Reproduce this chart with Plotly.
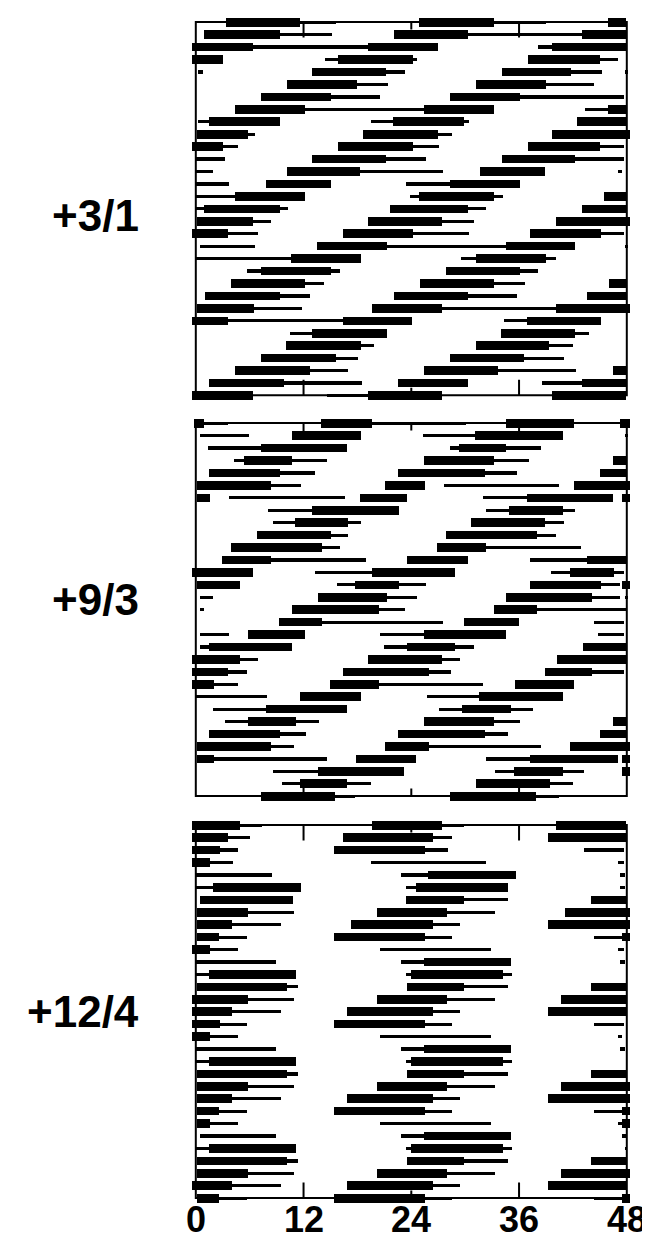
import plotly.graph_objects as go

# ---------------- data (hours 0-48, double-plotted rows) ----------------
panel_labels = ["+3/1", "+9/3", "+12/4"]
tick_values = [0, 12, 24, 36, 48]
tick_labels = ["0", "12", "24", "36", "48"]

p1_thick = [
    [(3.4, 11.6), (24.9, 33.2), (45.9, 48)],
    [(1.0, 9.4), (22.1, 30.3), (43.1, 48)],
    [(-0.4, 6.4), (19.2, 27.0), (39.7, 48)],
    [(-0.4, 3.1), (15.9, 24.2), (37.0, 45.1)],
    [(13.0, 21.2), (34.1, 41.8)],
    [(10.2, 18.0), (31.2, 39.0)],
    [(7.3, 15.1), (28.3, 36.1)],
    [(4.4, 12.2), (25.4, 33.2), (45.9, 48)],
    [(1.5, 9.4), (22.0, 29.9), (42.5, 48.1)],
    [(0.2, 5.9), (18.7, 27.0), (39.7, 48.4)],
    [(-0.4, 3.1), (15.9, 24.2), (37.0, 45.1)],
    [(13.0, 21.2), (34.1, 42.3)],
    [(10.2, 18.3), (31.7, 38.9)],
    [(7.8, 15.1), (28.3, 36.1)],
    [(4.4, 12.2), (24.9, 33.2), (45.5, 48)],
    [(1.0, 9.4), (21.7, 30.3), (43.1, 48)],
    [(0.2, 6.4), (19.2, 27.5), (40.2, 48.4)],
    [(-0.4, 3.6), (16.4, 24.2), (37.3, 45.2)],
    [(13.5, 21.3), (34.6, 42.3)],
    [(10.6, 18.4), (31.2, 39.0)],
    [(7.3, 15.1), (27.9, 36.1)],
    [(4.0, 12.2), (25.0, 33.2), (46.0, 48)],
    [(1.1, 9.4), (22.1, 30.3), (43.6, 48)],
    [(0.2, 6.5), (19.7, 27.5), (40.2, 48.4)],
    [(-0.4, 3.6), (16.4, 24.1), (36.9, 45.2)],
    [(13.0, 21.3), (34.0, 42.3)],
    [(10.1, 18.4), (31.2, 39.4)],
    [(7.3, 15.6), (28.3, 36.6)],
    [(4.4, 12.7), (25.5, 33.7), (46.5, 48)],
    [(1.5, 9.9), (22.6, 30.3), (43.1, 48)],
    [(-0.4, 6.4), (19.2, 27.5), (39.7, 48)],
]
p1_thin = [
    [(11.6, 15.7), (33.2, 39.0)],
    [(9.4, 15.2), (30.3, 43.3)],
    [(6.4, 19.2), (38.1, 39.7)],
    [(14.4, 15.9), (24.2, 24.7), (45.1, 47.1)],
    [(0.3, 0.8), (21.2, 23.3), (41.8, 45.3), (47.8, 48.2)],
    [(18.0, 21.4), (39.0, 44.4)],
    [(15.1, 20.5), (36.1, 47.7)],
    [(12.2, 25.4), (43.4, 45.9)],
    [(0.3, 1.5), (19.6, 22.0), (29.9, 30.5)],
    [(5.9, 6.6), (27.0, 28.6)],
    [(3.1, 4.7), (24.2, 27.1), (45.1, 47.7)],
    [(0, 3.3), (21.2, 25.7), (42.3, 47.7)],
    [(0, 1.9), (18.3, 27.6), (47.1, 47.5)],
    [(0, 3.7), (23.4, 28.3)],
    [(0, 4.4), (23.9, 24.9), (33.2, 34.2)],
    [(0, 1.0), (9.4, 10.3), (30.3, 32.3)],
    [(6.4, 8.4), (27.5, 31.0)],
    [(3.6, 7.0), (24.2, 30.5), (45.2, 47.7)],
    [(0.5, 6.6), (21.3, 34.6), (47.8, 48.2)],
    [(0, 10.6), (29.6, 31.2), (39.0, 40.1)],
    [(5.7, 7.3), (15.1, 16.1), (36.1, 38.1)],
    [(12.2, 14.3), (33.2, 36.7)],
    [(9.4, 12.8), (30.3, 35.8)],
    [(6.5, 11.9), (27.5, 40.2)],
    [(3.6, 16.4), (34.4, 36.9)],
    [(10.5, 13.0), (42.3, 43.8)],
    [(18.4, 19.9), (39.4, 42.0)],
    [(15.6, 18.1), (36.6, 41.0)],
    [(12.7, 17.0), (33.7, 42.4)],
    [(9.9, 18.5), (38.6, 43.1)],
    [(14.7, 19.2)],
]

p2_thick = [
    [(-0.2, 1.0), (14.0, 19.7), (34.6, 42.2), (47.3, 48.4)],
    [(10.7, 18.4), (31.1, 40.9)],
    [(7.3, 16.9), (29.3, 34.6)],
    [(5.4, 10.7), (25.4, 33.2), (46.5, 48)],
    [(1.5, 9.4), (22.6, 32.2), (45.0, 48)],
    [(0.2, 8.4), (21.1, 25.6), (42.2, 48.4)],
    [(0.2, 1.6), (18.3, 23.6), (36.9, 46.5), (47.5, 48.4)],
    [(13.0, 22.7), (34.9, 40.9)],
    [(11.1, 17.0), (30.7, 38.9)],
    [(6.8, 15.1), (27.9, 38.0)],
    [(4.0, 14.1), (26.9, 32.3)],
    [(3.0, 8.4), (23.5, 30.3), (43.6, 48)],
    [(-0.4, 6.4), (19.7, 28.9), (41.7, 46.6)],
    [(0.2, 5.0), (17.8, 22.7), (37.3, 45.2), (47.5, 48.4)],
    [(13.6, 21.3), (34.6, 44.2)],
    [(10.7, 20.4), (33.2, 38.0)],
    [(9.3, 14.1), (29.9, 36.0)],
    [(5.9, 12.2), (25.4, 34.6)],
    [(1.5, 10.7), (23.6, 28.9), (43.2, 48)],
    [(-0.4, 5.0), (19.2, 27.5), (40.3, 48)],
    [(-0.4, 3.6), (16.4, 26.0), (38.9, 44.2)],
    [(-0.4, 2.1), (15.0, 20.4), (35.6, 42.2)],
    [(11.6, 18.4), (31.6, 40.9)],
    [(7.8, 16.9), (29.7, 35.1)],
    [(5.9, 11.2), (25.4, 33.2), (46.5, 48)],
    [(1.5, 9.4), (22.6, 32.2), (45.0, 48)],
    [(0.2, 8.4), (21.1, 26.0), (41.7, 48.4)],
    [(0.2, 2.1), (17.9, 24.6), (37.3, 47.0), (47.5, 48.4)],
    [(13.6, 23.2), (35.5, 40.9), (47.5, 48.4)],
    [(11.6, 16.9), (31.2, 39.5)],
    [(7.3, 15.5), (28.3, 37.9)],
]
p2_thin = [
    [(1.0, 3.6), (19.7, 30.1)],
    [(0.5, 6.0), (25.3, 31.1), (47.8, 48.2)],
    [(1.4, 7.3), (28.3, 29.3), (34.6, 38.5)],
    [(4.3, 5.4), (10.7, 14.7), (33.2, 37.1)],
    [(9.4, 13.3), (32.2, 35.8)],
    [(8.4, 11.8), (27.7, 40.5)],
    [(3.7, 16.6), (32.0, 36.9)],
    [(8.1, 13.0), (32.4, 34.9), (40.9, 42.3)],
    [(8.6, 11.1), (17.0, 18.4), (38.9, 41.0)],
    [(15.1, 17.0), (38.0, 40.1)],
    [(14.1, 16.1), (32.3, 42.9)],
    [(8.4, 19.0), (37.3, 43.6)],
    [(13.3, 19.7), (39.6, 41.7), (46.6, 47.7)],
    [(15.8, 17.8), (22.7, 25.7), (45.2, 47.3)],
    [(0.5, 1.9), (21.3, 24.7), (44.2, 47.3), (47.8, 48.2)],
    [(0.5, 0.9), (20.4, 23.3), (38.0, 48.1)],
    [(14.1, 27.6), (44.4, 47.7)],
    [(0.5, 3.7), (20.5, 25.4), (44.8, 47.7)],
    [(0.5, 1.5), (21.0, 23.6), (28.9, 31.0)],
    [(5.0, 7.0), (27.5, 29.5)],
    [(3.6, 5.7), (26.0, 28.5), (44.2, 47.7)],
    [(2.1, 4.7), (20.4, 32.0)],
    [(0, 8.0), (25.8, 31.6)],
    [(1.9, 7.8), (27.1, 29.7), (35.1, 37.6)],
    [(3.3, 5.9), (11.2, 13.7), (33.2, 36.1)],
    [(9.4, 12.3), (32.2, 34.8)],
    [(8.4, 11.0), (26.0, 38.5)],
    [(2.1, 14.7), (32.4, 37.3)],
    [(8.6, 13.6), (33.4, 35.5), (40.9, 43.3)],
    [(9.6, 11.6), (16.9, 19.5), (39.5, 42.0)],
    [(15.5, 17.8), (37.9, 40.5)],
]

p3_thick = [
    [(-0.4, 5.0), (19.7, 27.5), (40.2, 48)],
    [(-0.4, 3.6), (16.4, 26.5), (39.3, 48)],
    [(-0.4, 2.7), (15.4, 25.6)],
    [(-0.4, 1.6)],
    [(25.9, 35.7)],
    [(2.0, 11.7), (24.6, 34.8)],
    [(0.5, 10.9), (23.4, 29.9), (44.0, 48.1)],
    [(0.2, 5.9), (20.2, 28.0), (41.2, 48.4)],
    [(0.2, 4.1), (17.3, 26.5), (39.3, 48.4)],
    [(0.2, 2.6), (15.4, 25.6), (47.5, 48.4)],
    [(-0.4, 1.6)],
    [(25.5, 35.1)],
    [(1.5, 11.2), (24.0, 34.2)],
    [(0.2, 10.2), (23.6, 29.9), (44.0, 48)],
    [(-0.4, 5.9), (20.2, 28.0), (40.7, 48)],
    [(-0.4, 4.1), (16.9, 26.5), (39.3, 48)],
    [(-0.4, 2.7), (15.4, 25.6)],
    [(-0.4, 1.6)],
    [(25.5, 35.1)],
    [(1.5, 11.2), (24.0, 34.2)],
    [(0.2, 10.2), (23.6, 29.9), (44.0, 48.1)],
    [(0.2, 5.9), (20.2, 28.0), (40.7, 48.4)],
    [(0.2, 4.1), (16.9, 26.5), (39.3, 48.4)],
    [(0.2, 2.6), (15.4, 25.6), (47.5, 48.4)],
    [(0.2, 1.6), (47.5, 48.4)],
    [(25.5, 35.1)],
    [(1.5, 11.2), (24.0, 34.2)],
    [(0.2, 10.2), (23.6, 29.9), (44.0, 48.1)],
    [(0.2, 5.9), (20.2, 28.0), (40.7, 48.4)],
    [(-0.4, 4.1), (16.9, 26.5), (39.3, 48)],
    [(0.2, 2.6), (15.4, 25.6), (47.5, 48.4)],
]
p3_thin = [
    [(5.0, 7.4), (27.5, 29.9)],
    [(3.6, 6.1), (26.5, 28.6)],
    [(2.7, 4.7), (25.6, 28.1), (43.3, 47.7)],
    [(1.6, 4.2), (19.5, 32.3), (47.0, 47.7)],
    [(0, 8.5), (22.9, 25.9), (47.3, 47.8)],
    [(0, 2.0), (23.4, 24.6), (47.3, 47.8)],
    [(29.9, 34.8)],
    [(5.9, 11.0), (28.0, 33.3)],
    [(4.1, 9.5), (26.5, 29.5)],
    [(2.6, 5.7), (25.6, 28.6), (44.4, 47.7)],
    [(1.6, 4.7), (20.5, 32.9), (47.0, 47.7)],
    [(0, 9.0), (22.9, 25.5), (47.3, 47.8)],
    [(0, 1.5), (23.4, 24.0), (34.2, 35.3)],
    [(10.2, 11.4), (29.9, 34.8)],
    [(5.9, 11.0), (28.0, 33.3)],
    [(4.1, 9.5), (26.5, 29.5)],
    [(2.7, 5.7), (25.6, 28.6), (44.4, 47.7)],
    [(1.6, 4.7), (20.5, 32.9), (47.0, 47.5)],
    [(0, 9.0), (22.9, 25.5), (47.3, 47.8)],
    [(0, 1.5), (23.4, 24.0), (34.2, 35.3)],
    [(10.2, 11.4), (29.9, 34.8)],
    [(5.9, 11.0), (28.0, 33.3)],
    [(4.1, 9.5), (26.5, 29.5)],
    [(2.6, 5.7), (25.6, 28.6), (44.4, 47.5)],
    [(1.6, 4.7), (20.5, 32.9), (47.0, 47.5)],
    [(0.5, 9.0), (22.9, 25.5), (47.5, 48)],
    [(0, 1.5), (23.4, 24.0), (34.2, 35.3), (47.8, 48.1)],
    [(10.2, 11.4), (29.9, 34.8)],
    [(5.9, 11.0), (28.0, 33.3)],
    [(4.1, 9.5), (26.5, 29.5)],
    [(2.6, 5.7), (25.6, 28.6), (44.4, 47.5)],
]

panels = [(p1_thick, p1_thin), (p2_thick, p2_thin), (p3_thick, p3_thin)]

# ---------------- layout geometry ----------------
W, H = 650, 1239
x_left_px, x_right_px = 187.8, 618.8          # pixel positions of hour 0 and 48
pxh = (x_right_px - x_left_px) / 48.0
xpad = 0.5
xdom = [(x_left_px - xpad * pxh) / W, (x_right_px + xpad * pxh) / W]
panel_rows_px = [(14.0, 387.3), (415.0, 788.0), (817.0, 1190.0)]  # row 0 / last row centres
label_y_px = [208, 591, 1003]
ypad = 0.5
NROW = 31
FONT = "Liberation Sans, Arial, Helvetica, sans-serif"

fig = go.Figure()
layout_axes = {}
shapes = []
annotations = []

for i, (thick, thin) in enumerate(panels):
    n = i + 1
    xa = "x" if n == 1 else f"x{n}"
    ya = "y" if n == 1 else f"y{n}"
    for bouts, width in ((thin, 0.26), (thick, 0.69)):
        ys, bases, lens = [], [], []
        for r, row in enumerate(bouts):
            for (a, b) in row:
                ys.append(r)
                bases.append(a)
                lens.append(b - a)
        fig.add_trace(go.Bar(
            y=ys, x=lens, base=bases, orientation="h", width=width,
            marker=dict(color="black", line=dict(width=0)),
            xaxis=xa, yaxis=ya, showlegend=False, hoverinfo="skip",
        ))
    top_px, bot_px = panel_rows_px[i]
    s = (bot_px - top_px) / (NROW - 1)
    ydom = [1 - (bot_px + ypad * s) / H, 1 - (top_px - ypad * s) / H]
    xkey = "xaxis" if n == 1 else f"xaxis{n}"
    ykey = "yaxis" if n == 1 else f"yaxis{n}"
    layout_axes[xkey] = dict(
        domain=xdom, range=[-xpad, 48 + xpad], anchor=ya,
        showgrid=False, zeroline=False, showline=False, ticks="",
        showticklabels=False, fixedrange=True,
    )
    layout_axes[ykey] = dict(
        domain=ydom, range=[NROW - 1 + ypad, -ypad], anchor=xa,
        showgrid=False, zeroline=False, showline=False, ticks="",
        showticklabels=False, fixedrange=True,
    )
    # frame
    shapes.append(dict(type="rect", xref=xa, yref=ya, x0=0, x1=48, y0=0, y1=NROW - 1,
                       line=dict(color="black", width=2), layer="above"))
    # inner ticks on top and bottom frame lines
    for tv in tick_values[1:-1]:
        ln = 0.6 if tv == 24 else 1.25
        shapes.append(dict(type="line", xref=xa, yref=ya, x0=tv, x1=tv, y0=0, y1=ln,
                           line=dict(color="black", width=2), layer="above"))
        shapes.append(dict(type="line", xref=xa, yref=ya, x0=tv, x1=tv,
                           y0=NROW - 1, y1=NROW - 1 - ln,
                           line=dict(color="black", width=2), layer="above"))
    annotations.append(dict(
        text=f"<b>{panel_labels[i]}</b>", xref="paper", yref="paper",
        x=133 / W, y=1 - label_y_px[i] / H, xanchor="right", yanchor="middle",
        showarrow=False, font=dict(family=FONT, size=44, color="black"),
    ))

# hour labels under the bottom panel (placed on the x3 scale)
for tv, tl in zip(tick_values, tick_labels):
    annotations.append(dict(
        text=f"<b>{tl}</b>", xref="x3", yref="paper", x=tv, y=5 / H,
        xanchor="center", yanchor="bottom", showarrow=False,
        font=dict(family=FONT, size=36, color="black"),
    ))

fig.update_layout(
    width=W, height=H, margin=dict(l=0, r=0, t=0, b=0),
    paper_bgcolor="white", plot_bgcolor="white",
    barmode="overlay", bargap=0,
    shapes=shapes, annotations=annotations,
    **layout_axes,
)

fig.write_html("out.html")
